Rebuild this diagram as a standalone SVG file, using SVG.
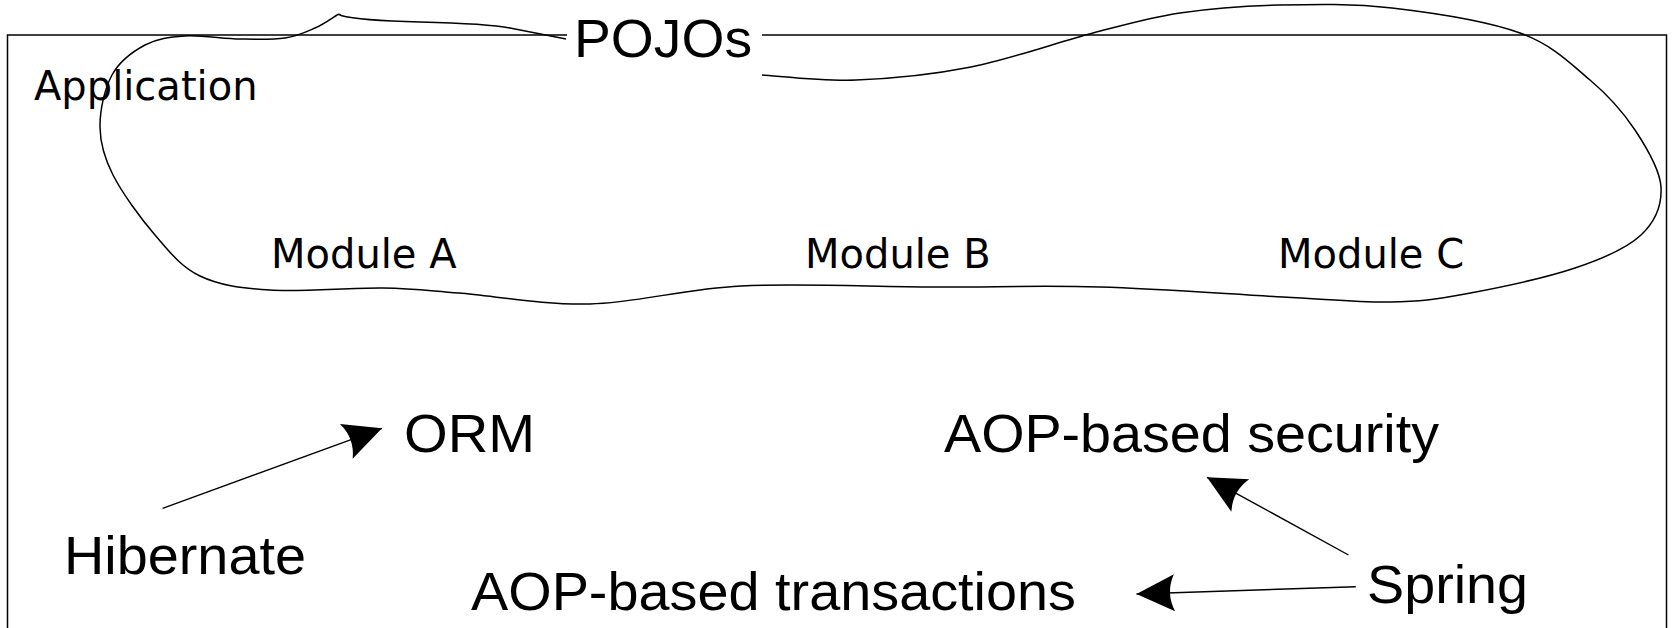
<svg xmlns="http://www.w3.org/2000/svg" width="1673" height="628" viewBox="0 0 1673 628">
<style>
.frame{fill:none;stroke:#000;stroke-width:1.5}
.blob{fill:none;stroke:#000;stroke-width:1.5;stroke-linejoin:round}
.conn{fill:none;stroke:#000;stroke-width:1.4}
.dv{font-family:"DejaVu Sans",sans-serif;fill:#000}
.ls{font-family:"Liberation Sans",Arial,sans-serif;fill:#000;font-size:54px}
</style>
<defs>
<marker id="ah" markerUnits="userSpaceOnUse" markerWidth="1" markerHeight="1" refX="0" refY="0" orient="auto" overflow="visible">
<path d="M0,0 L-38,-18.5 Q-29,0 -38,18.5 Z" fill="#000"/>
</marker>
</defs>
<rect id="bg" x="0" y="0" width="1673" height="628" fill="#fff"/>
<g id="application">
<rect class="frame" x="7.5" y="35" width="1659" height="620"/>
<text class="dv" x="34" y="100" font-size="40">Application</text>
</g>
<g id="pojos">
<path class="blob" d="M762,75 C777.7,75.8 821.2,81.3 856,80 C890.8,78.7 931.5,74.8 971,67 C1010.5,59.2 1058.2,42 1093,33 C1127.8,24 1149,17.7 1180,13 C1211,8.3 1243.7,5.8 1279,5 C1314.3,4.2 1351.8,3.3 1392,8 C1432.2,12.7 1487,21 1520,33 C1553,45 1570.8,63.8 1590,80 C1609.2,96.2 1623.2,112.2 1635,130 C1646.8,147.8 1660,169.5 1661,187 C1662,204.5 1655.3,221.5 1641,235 C1626.7,248.5 1604.3,258.2 1575,268 C1545.7,277.8 1495.8,288.3 1465,294 C1434.2,299.7 1420.3,301.5 1390,302 C1359.7,302.5 1331.3,299.5 1283,297 C1234.7,294.5 1158.3,288.7 1100,287 C1041.7,285.3 992.8,287.2 933,287 C873.2,286.8 798.2,283.2 741,286 C683.8,288.8 637,302.8 590,304 C543,305.2 493.5,295.7 459,293 C424.5,290.3 414.5,288.5 383,288 C351.5,287.5 300.5,292 270,290 C239.5,288 219.2,285.2 200,276 C180.8,266.8 169.5,251.8 155,235 C140.5,218.2 122.2,193 113,175 C103.8,157 100.2,143.7 100,127 C99.8,110.3 104.5,88.7 112,75 C119.5,61.3 132.8,51.5 145,45 C157.2,38.5 169.2,37 185,36 C200.8,35 223.3,38.7 240,39 C256.7,39.3 272.5,39.8 285,38 C297.5,36.2 306.3,31.8 315,28 C323.7,24.2 333.3,17.2 337,15 Q339,13.5 341,15.5 C350,18 380,21 420,22 C460,23 490,24 510,28 C535,33 552,36.3 566,39"/>
<rect x="567" y="6" width="195" height="66" fill="#fff"/>
<text class="ls" x="574" y="57" font-size="52" textLength="178" lengthAdjust="spacingAndGlyphs">POJOs</text>
</g>
<g id="module-a"><text class="dv" x="271" y="268" font-size="40">Module A</text></g>
<g id="module-b"><text class="dv" x="805" y="268" font-size="40">Module B</text></g>
<g id="module-c"><text class="dv" x="1278" y="268" font-size="40">Module C</text></g>
<g id="orm"><text class="ls" x="404" y="452" textLength="131" lengthAdjust="spacingAndGlyphs">ORM</text></g>
<g id="hibernate"><text class="ls" x="64" y="574" textLength="242" lengthAdjust="spacingAndGlyphs">Hibernate</text></g>
<g id="aop-security"><text class="ls" x="944" y="452" textLength="495" lengthAdjust="spacingAndGlyphs">AOP-based security</text></g>
<g id="aop-transactions"><text class="ls" x="471" y="610" textLength="605" lengthAdjust="spacingAndGlyphs">AOP-based transactions</text></g>
<g id="spring"><text class="ls" x="1367" y="603" textLength="161" lengthAdjust="spacingAndGlyphs">Spring</text></g>
<g id="connectors">
<line class="conn" x1="162.6" y1="508.3" x2="382" y2="428.3" marker-end="url(#ah)"/>
<line class="conn" x1="1348.5" y1="555" x2="1207" y2="477.3" marker-end="url(#ah)"/>
<line class="conn" x1="1355.8" y1="586.7" x2="1136.5" y2="594" marker-end="url(#ah)"/>
</g>
</svg>
